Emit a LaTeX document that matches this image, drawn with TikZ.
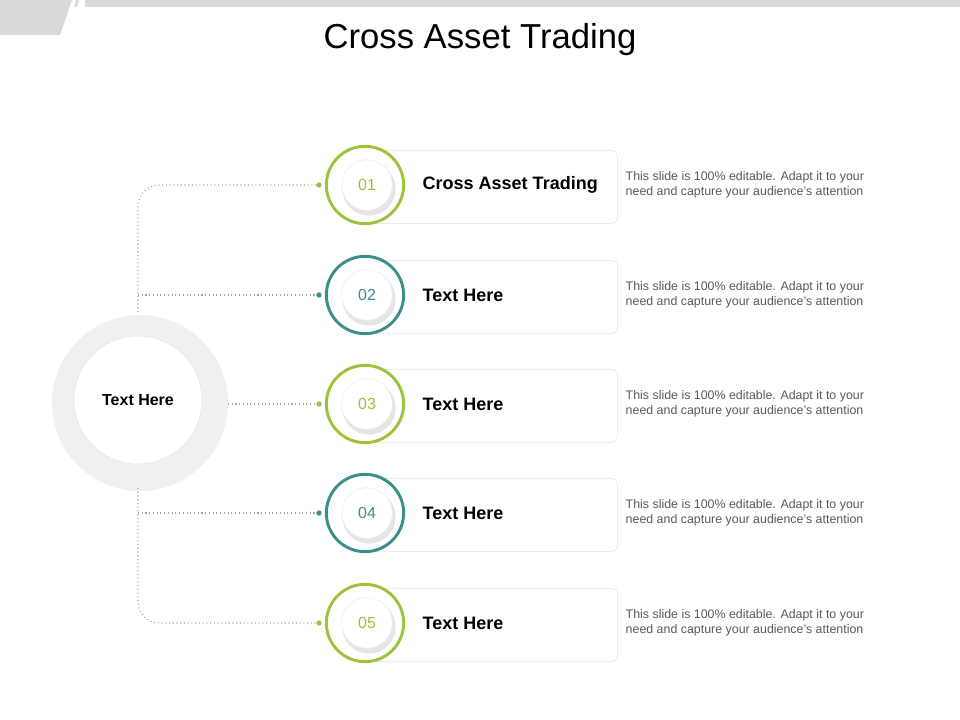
\documentclass[tikz,border=0pt]{standalone}
\usepackage{fontspec}
\setmainfont{Liberation Sans}
\usetikzlibrary{positioning}
\definecolor{leaf}{HTML}{9DC23B}
\definecolor{teal}{HTML}{3A9089}
\definecolor{linegray}{HTML}{A6A6A6}
\tikzset{
  ring/.style={circle, draw=#1, line width=2.2pt, fill=white, minimum size=58pt, inner sep=0pt},
  knob/.style={circle, fill=white, draw=black!8, minimum size=38pt, inner sep=0pt, font=\fontsize{12}{12}\selectfont},
  card/.style={draw=black!12, rounded corners=4pt, fill=white, minimum width=189pt, minimum height=55pt, anchor=west},
  dot/.style={circle, fill=#1, inner sep=0pt, minimum size=4pt},
  link/.style={draw=linegray, dotted, line width=0.8pt},
  desc/.style={align=left, anchor=west, text=black!65, font=\fontsize{9.3}{11.5}\selectfont},
  head/.style={anchor=west, font=\bfseries\fontsize{13.5}{14}\selectfont}
}
\begin{document}
\begin{tikzpicture}[x=0.75pt, y=-0.75pt]
\useasboundingbox (0,0) rectangle (960,720);
% top decoration
\fill[black!15] (0,0) -- (72,0) -- (60,35) -- (0,35) -- cycle;
\fill[black!15] (85,0) rectangle (960,7);
\fill[black!15] (76,0) -- (79,0) -- (77,7) -- (74,7) -- cycle;
\node[font=\fontsize{26}{26}\selectfont] (title) at (480,40) {Cross Asset Trading};
% centre circle
\fill[black!6] (140,403) circle (66pt);
\node[circle, fill=white, draw=black!10, minimum size=96pt, font=\bfseries\fontsize{12}{12}\selectfont] (hub) at (138,400) {Text Here};
% rows
\foreach \i/\y/\c/\t in {1/185/leaf/Cross Asset Trading, 2/295/teal/Text Here, 3/404/leaf/Text Here, 4/513/teal/Text Here, 5/623/leaf/Text Here}{
  \node[card] (card\i) at (365,\y+2) {};
  \node[ring=\c] (ring\i) at (365,\y) {};
  \fill[black!10] (369,\y+4) circle (20pt);
  \node[knob, text=\c] (num\i) at (367,\y) {0\i};
  \node[dot=\c] (dot\i) at (319,\y) {};
  \node[head] (head\i) at (418,\y) {\t};
  \node[desc] (desc\i) at (621,\y) {This slide is 100\% editable. Adapt it to your\\need and capture your audience's attention};
}
% connectors
\coordinate (top) at (138,312);
\coordinate (bot) at (138,488);
\draw[link, rounded corners=16pt] (top) |- (dot1);
\draw[link] (top |- dot2) -- (dot2);
\draw[link] (228,404) -- (dot3);
\draw[link] (bot |- dot4) -- (dot4);
\draw[link, rounded corners=16pt] (bot) |- (dot5);
\end{tikzpicture}
\end{document}
